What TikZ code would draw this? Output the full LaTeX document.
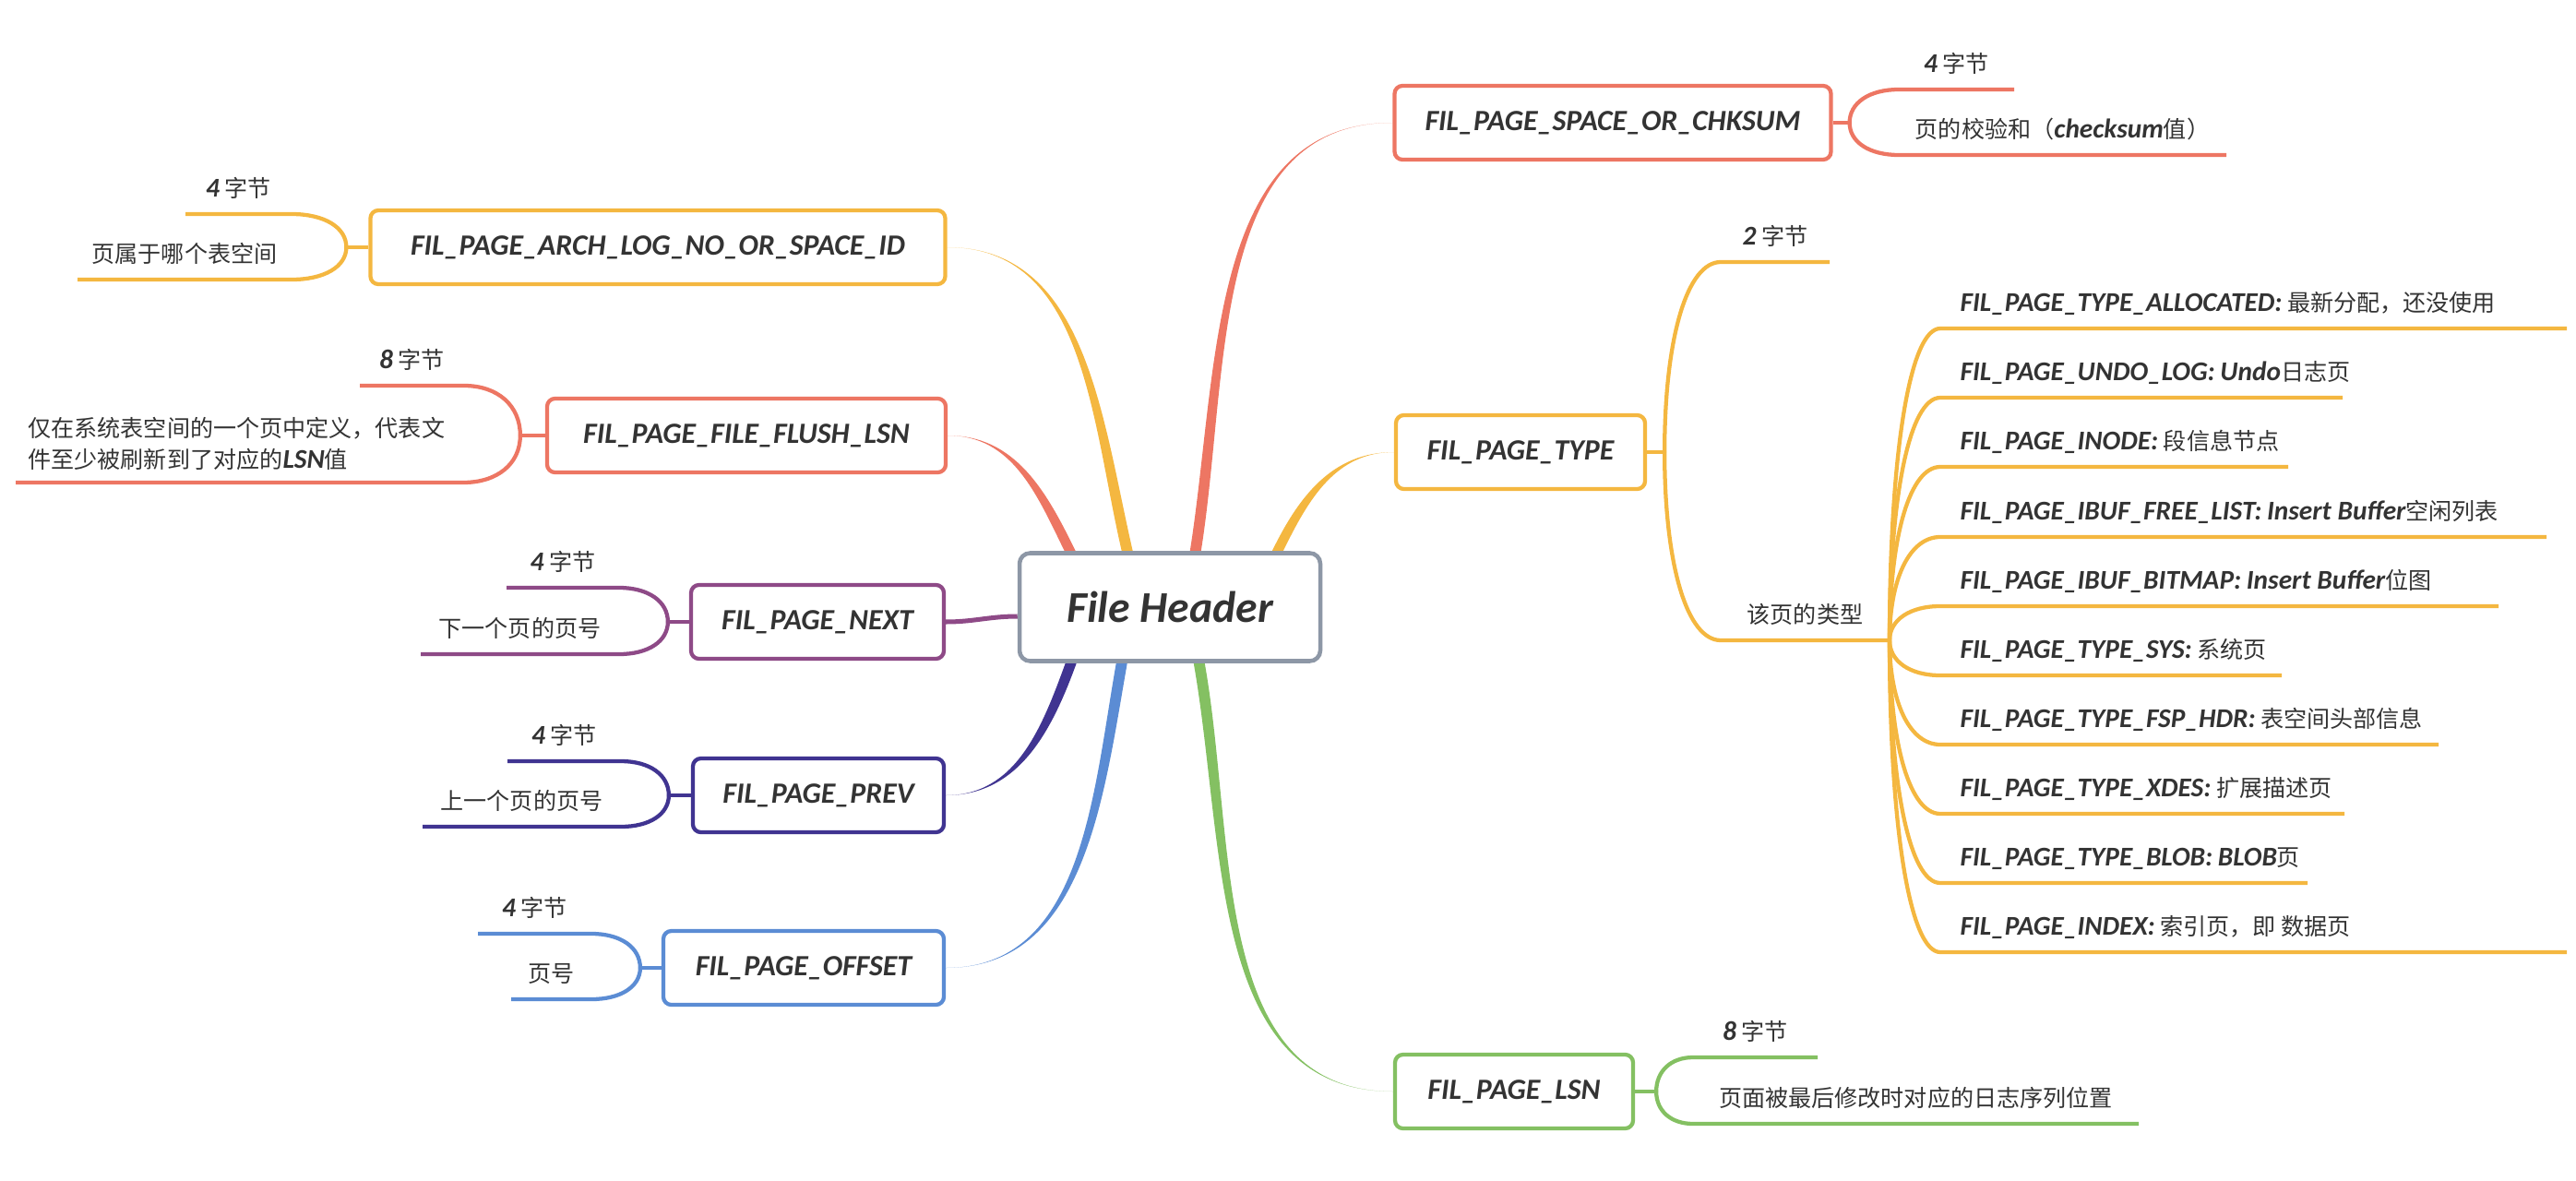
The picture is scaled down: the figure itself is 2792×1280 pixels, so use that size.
\documentclass[tikz,border=0pt]{standalone}
\usepackage{fontspec}
\setmainfont{Carlito}
\newfontfamily\zhfont{Noto Sans CJK SC}
\usetikzlibrary{calc,backgrounds}

\definecolor{cRed}{HTML}{ED7663}
\definecolor{cYel}{HTML}{F4B740}
\definecolor{cPur}{HTML}{8E4A87}
\definecolor{cInd}{HTML}{403491}
\definecolor{cBlu}{HTML}{5B8CD4}
\definecolor{cGrn}{HTML}{84C062}
\definecolor{cGry}{HTML}{8D97A6}
\definecolor{cTxt}{HTML}{333333}

\newdimen\unitpx \unitpx=0.014cm
\newcommand{\enb}[1]{{\fontsize{11.7}{12}\selectfont\bfseries\itshape #1}}
\newcommand{\zh}[1]{{\zhfont #1}}
\newcommand{\limb}[5]{\fill[#1] ($(#2)+(-6,0)$) to[out=#4,in=#5] (#3) to[out=#5,in=#4] ($(#2)+(6,0)$) -- cycle;}
\newcommand{\twig}[4]{\draw[twig=#1] (#2) .. controls ($(#2)!.6!(#2|-#3)$) and ($(#3)!.6!(#2|-#3)$) .. (#3) -- (#4);}

\tikzset{
  box/.style={draw=#1, fill=white, line width=1.7pt, rounded corners=0.12cm, inner sep=0pt,
    minimum height=80*\unitpx, text=cTxt, font=\fontsize{12.7}{14}\selectfont\bfseries\itshape},
  leaf/.style={anchor=south west, inner xsep=0pt, inner ysep=5pt, text height=8pt, text depth=2pt,
    text=cTxt, font=\fontsize{10}{12}\selectfont, minimum width=#1*\unitpx},
  typeitem/.style={anchor=south west, inner xsep=21*\unitpx, inner ysep=5pt, text height=8pt,
    text depth=2pt, text=cTxt, font=\fontsize{10}{12}\selectfont},
  twig/.style={draw=#1, line width=1.7pt},
}

\begin{document}
\begin{tikzpicture}[x=0.014cm,y=-0.014cm]
\useasboundingbox (0,0) rectangle (2792,1280);

\node[draw=cGry, fill=white, line width=1.8pt, rounded corners=0.16cm, minimum width=326*\unitpx,
  minimum height=117*\unitpx, text=cTxt, font=\fontsize{19}{22}\selectfont\bfseries\itshape]
  (root) at (1268,658) {File Header};

\node[box=cRed, minimum width=473*\unitpx] (chk) at (1748,133) {FIL\_PAGE\_SPACE\_OR\_CHKSUM};
\node[box=cYel, minimum width=270*\unitpx] (type) at (1648,490) {FIL\_PAGE\_TYPE};
\node[box=cGrn, minimum width=258*\unitpx] (lsn) at (1641,1183) {FIL\_PAGE\_LSN};
\node[box=cYel, minimum width=623*\unitpx] (arch) at (713,268) {FIL\_PAGE\_ARCH\_LOG\_NO\_OR\_SPACE\_ID};
\node[box=cRed, minimum width=432*\unitpx] (flush) at (809,472) {FIL\_PAGE\_FILE\_FLUSH\_LSN};
\node[box=cPur, minimum width=274*\unitpx] (next) at (886,674) {FIL\_PAGE\_NEXT};
\node[box=cInd, minimum width=272*\unitpx] (prev) at (887,862) {FIL\_PAGE\_PREV};
\node[box=cBlu, minimum width=304*\unitpx] (offset) at (871,1049) {FIL\_PAGE\_OFFSET};

\coordinate (bFlush) at ($(root.north west)+(57,0)$);
\coordinate (bArch) at ($(root.north west)+(119,0)$);
\coordinate (bChk) at ($(root.north west)+(193,0)$);
\coordinate (bType) at ($(root.north west)+(282,0)$);
\coordinate (bPrev) at ($(root.south west)+(58,0)$);
\coordinate (bOff) at ($(root.south west)+(113,0)$);
\coordinate (bLsn) at ($(root.south west)+(197,0)$);
\coordinate (bNext) at ($(root.west)+(0,10)$);

\begin{pgfonlayer}{background}
\limb{cRed}{bFlush}{flush.east}{116}{0}
\limb{cYel}{bArch}{arch.east}{103}{0}
\limb{cRed}{bChk}{chk.west}{81}{180}
\limb{cYel}{bType}{type.west}{64}{180}
\limb{cInd}{bPrev}{prev.east}{-110}{0}
\limb{cBlu}{bOff}{offset.east}{-100}{0}
\limb{cGrn}{bLsn}{lsn.west}{-80}{180}
\draw[cPur, line width=2pt] (bNext) to[out=180,in=0] (next.east);
\end{pgfonlayer}

\coordinate (chkS) at ($(chk.east)+(18,0)$);
\coordinate (typeS) at ($(type.east)+(19,0)$);
\coordinate (lsnS) at ($(lsn.east)+(23,0)$);
\coordinate (archS) at ($(arch.west)+(-24,0)$);
\coordinate (flushS) at ($(flush.west)+(-27,0)$);
\coordinate (nextS) at ($(next.west)+(-23,0)$);
\coordinate (prevS) at ($(prev.west)+(-24,0)$);
\coordinate (offS) at ($(offset.west)+(-23,0)$);

\draw[twig=cRed] (chk.east) -- (chkS);
\draw[twig=cYel] (type.east) -- (typeS);
\draw[twig=cGrn] (lsn.east) -- (lsnS);
\draw[twig=cYel] (arch.west) -- (archS);
\draw[twig=cRed] (flush.west) -- (flushS);
\draw[twig=cPur] (next.west) -- (nextS);
\draw[twig=cInd] (prev.west) -- (prevS);
\draw[twig=cBlu] (offset.west) -- (offS);

\node[leaf=124] (chk1) at (2058,97) {\enb{4} \zh{字节}};
\node[leaf=354] (chk2) at (2058,168) {\zh{页的校验和（}\enb{checksum}\zh{值）}};
\twig{cRed}{chkS}{chk1.south west}{chk1.south east}
\twig{cRed}{chkS}{chk2.south west}{chk2.south east}

\node[leaf=117] (type1) at (1865,284) {\enb{2} \zh{字节}};
\node[leaf=182] (type2) at (1865,694) {\zh{该页的类型}};
\twig{cYel}{typeS}{type1.south west}{type1.south east}
\twig{cYel}{typeS}{type2.south west}{type2.south east}
\coordinate (typeO) at (type2.south east);

\node[typeitem] (tA) at (2103,356) {\enb{FIL\_PAGE\_TYPE\_ALLOCATED:} \zh{最新分配，还没使用}};
\node[typeitem] (tU) at (2103,431) {\enb{FIL\_PAGE\_UNDO\_LOG:} \enb{Undo}\zh{日志页}};
\node[typeitem] (tI) at (2103,506) {\enb{FIL\_PAGE\_INODE:} \zh{段信息节点}};
\node[typeitem] (tF) at (2103,582) {\enb{FIL\_PAGE\_IBUF\_FREE\_LIST:} \enb{Insert Buffer}\zh{空闲列表}};
\node[typeitem] (tM) at (2103,657) {\enb{FIL\_PAGE\_IBUF\_BITMAP:} \enb{Insert Buffer}\zh{位图}};
\node[typeitem] (tS) at (2103,732) {\enb{FIL\_PAGE\_TYPE\_SYS:} \zh{系统页}};
\node[typeitem] (tH) at (2103,807) {\enb{FIL\_PAGE\_TYPE\_FSP\_HDR:} \zh{表空间头部信息}};
\node[typeitem] (tX) at (2103,882) {\enb{FIL\_PAGE\_TYPE\_XDES:} \zh{扩展描述页}};
\node[typeitem] (tB) at (2103,957) {\enb{FIL\_PAGE\_TYPE\_BLOB:} \enb{BLOB}\zh{页}};
\node[typeitem] (tN) at (2103,1032) {\enb{FIL\_PAGE\_INDEX:} \zh{索引页，即 数据页}};
\twig{cYel}{typeO}{tA.south west}{$(tA.south west)+(679,0)$}
\twig{cYel}{typeO}{tU.south west}{$(tU.south west)+(436,0)$}
\twig{cYel}{typeO}{tI.south west}{$(tI.south west)+(377,0)$}
\twig{cYel}{typeO}{tF.south west}{$(tF.south west)+(657,0)$}
\twig{cYel}{typeO}{tM.south west}{$(tM.south west)+(605,0)$}
\twig{cYel}{typeO}{tS.south west}{$(tS.south west)+(370,0)$}
\twig{cYel}{typeO}{tH.south west}{$(tH.south west)+(540,0)$}
\twig{cYel}{typeO}{tX.south west}{$(tX.south west)+(438,0)$}
\twig{cYel}{typeO}{tB.south west}{$(tB.south west)+(398,0)$}
\twig{cYel}{typeO}{tN.south west}{$(tN.south west)+(679,0)$}

\node[leaf=134] (lsn1) at (1835,1146) {\enb{8} \zh{字节}};
\node[leaf=482] (lsn2) at (1835,1218) {\zh{页面被最后修改时对应的日志序列位置}};
\twig{cGrn}{lsnS}{lsn1.south west}{lsn1.south east}
\twig{cGrn}{lsnS}{lsn2.south west}{lsn2.south east}

\node[leaf=114] (arch1) at (201,232) {\enb{4} \zh{字节}};
\node[leaf=231] (arch2) at (84,303) {\zh{页属于哪个表空间}};
\twig{cYel}{archS}{arch1.south east}{arch1.south west}
\twig{cYel}{archS}{arch2.south east}{arch2.south west}

\node[leaf=112] (flush1) at (390,418) {\enb{8} \zh{字节}};
\node[anchor=south west, inner xsep=13*\unitpx, inner ysep=5pt, align=left, text=cTxt,
  font=\fontsize{10}{13.5}\selectfont] (flush2) at (17,523)
  {\zh{仅在系统表空间的一个页中定义，代表文}\\\zh{件至少被刷新到了对应的}\enb{LSN}\zh{值}};
\coordinate (flush2e) at ($(flush2.south west)+(485,0)$);
\twig{cRed}{flushS}{flush1.south east}{flush1.south west}
\twig{cRed}{flushS}{flush2e}{flush2.south west}

\node[leaf=121] (next1) at (549,637) {\enb{4} \zh{字节}};
\node[leaf=214] (next2) at (456,709) {\zh{下一个页的页号}};
\twig{cPur}{nextS}{next1.south east}{next1.south west}
\twig{cPur}{nextS}{next2.south east}{next2.south west}

\node[leaf=122] (prev1) at (550,825) {\enb{4} \zh{字节}};
\node[leaf=214] (prev2) at (458,896) {\zh{上一个页的页号}};
\twig{cInd}{prevS}{prev1.south east}{prev1.south west}
\twig{cInd}{prevS}{prev2.south east}{prev2.south west}

\node[leaf=122] (off1) at (518,1012) {\enb{4} \zh{字节}};
\node[leaf=86] (off2) at (554,1083) {\zh{页号}};
\twig{cBlu}{offS}{off1.south east}{off1.south west}
\twig{cBlu}{offS}{off2.south east}{off2.south west}

\end{tikzpicture}
\end{document}
